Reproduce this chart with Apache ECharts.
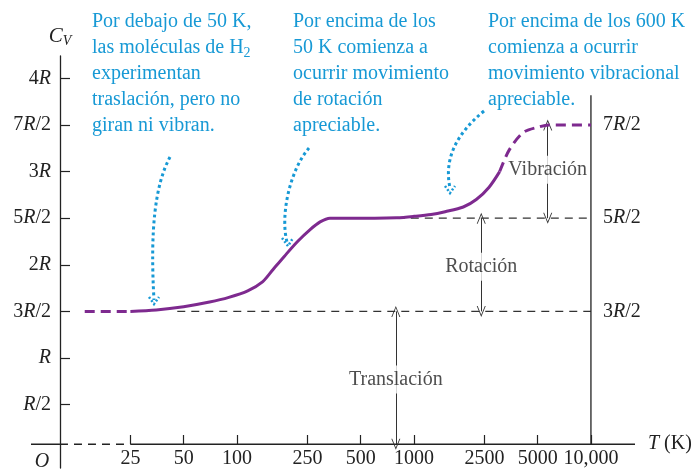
<!DOCTYPE html>
<html>
<head>
<meta charset="utf-8">
<script src="https://cdn.jsdelivr.net/npm/echarts@6/dist/echarts.min.js"></script>
<style>
    html, body { margin: 0; padding: 0; background: #fff; }
    #main { width: 698px; height: 469px; }
</style>
</head>
<body>
<div id="main"></div>
<script>
// curva Cv(T) del H2 (T en K, Cv en unidades de R)
var tempLow = [13.8, 25];
var cvLow = [1.5, 1.5];
var tempMid = [25, 35, 50, 70, 90, 115, 140, 160, 185, 220, 260, 295, 335, 450, 600, 800, 1000, 1250, 1500, 1900, 2250, 2650, 3050];
var cvMid = [1.5, 1.515, 1.55, 1.6, 1.65, 1.72, 1.82, 1.95, 2.09, 2.25, 2.38, 2.46, 2.5, 2.5, 2.5, 2.505, 2.52, 2.54, 2.57, 2.62, 2.7, 2.83, 3.0];
var tempHigh = [3050, 3450, 4150, 5100, 5800, 10000];
var cvHigh = [3.0, 3.23, 3.42, 3.48, 3.5, 3.5];

// ejes
var xTickVals = [25, 50, 100, 250, 500, 1000, 2500, 5000, 10000];
var xTickLabels = ["25", "50", "100", "250", "500", "1000", "2500", "5000", "10,000"];
var yTickVals = [0.5, 1, 1.5, 2, 2.5, 3, 3.5, 4];
var yTickLabels = ["R/2", "R", "3R/2", "2R", "5R/2", "3R", "7R/2", "4R"];
var rightVals = [1.5, 2.5, 3.5];
var rightLabels = ["3R/2", "5R/2", "7R/2"];

// lineas de referencia punteadas
var refStart = [46, 800];
var refLevel = [1.5, 2.5];

// flechas dobles
var arrowTemp = [790, 2400, 5700];
var arrowLow = [0.075, 1.5, 2.5];
var arrowHigh = [1.5, 2.5, 3.5];
var arrowNames = ["Translación", "Rotación", "Vibración"];
var arrowNameCv = [0.77, 1.98, 3.02];

var xMin = 6.86, xMax = 17740, tWall = 10000, axisCv = 0.075, wallTop = 3.82;
var purple = "#7e2a8f";
var blue = "#1799d5";
var ink = "#222";
var serif = "Liberation Serif";

function zip(xs, ys) {
    var out = [];
    for (var i = 0; i < xs.length; i++) {
        out.push([xs[i], ys[i]]);
    }
    return out;
}

function richR(s) {
    return s.replace("R", "{i|R}");
}

function labelFor(vals, labels) {
    return function (v) {
        for (var i = 0; i < vals.length; i++) {
            if (Math.abs(vals[i] - v) < 1e-6 * Math.max(1, vals[i])) return richR(labels[i]);
        }
        return "";
    };
}

var italicRich = { i: { fontStyle: "italic", fontFamily: serif, fontSize: 20, color: ink } };

function plainLine(data, color, width, type, z) {
    return {
        type: "line", data: data, symbol: "none", silent: true, z: z || 2,
        lineStyle: { color: color, width: width, type: type }
    };
}

var series = [];
// eje x dibujado a mano: tramo solido, tramo cortado, tramo solido
series.push(plainLine([[xMin, axisCv], [10, axisCv]], ink, 1.3, "solid"));
series.push(plainLine([[10, axisCv], [25, axisCv]], ink, 1.3, [8, 6]));
series.push(plainLine([[25, axisCv], [xMax, axisCv]], ink, 1.3, "solid"));
// pared vertical a 10,000 K
series.push(plainLine([[tWall, axisCv], [tWall, wallTop]], ink, 1.3, "solid", 6));
for (var r = 0; r < refStart.length; r++) {
    series.push(plainLine([[refStart[r], refLevel[r]], [tWall, refLevel[r]]], "#333", 1.2, [8, 6]));
}

var arrowHead = "path://M0,10 L5,0 L10,10 L9,10 L5,2 L1,10 Z";
var arrowData = [];
for (var a = 0; a < arrowTemp.length; a++) {
    arrowData.push([{ coord: [arrowTemp[a], arrowLow[a]] }, { coord: [arrowTemp[a], arrowHigh[a]] }]);
}
series.push({
    type: "line", data: [], silent: true, z: 3,
    markLine: {
        silent: true, animation: false,
        symbol: [arrowHead, arrowHead], symbolSize: [9, 11],
        label: { show: false },
        lineStyle: { color: "#333", width: 1, type: "solid" },
        data: arrowData
    }
});
var nameData = [];
for (var n = 0; n < arrowNames.length; n++) {
    nameData.push({ name: arrowNames[n], value: [arrowTemp[n], arrowNameCv[n]] });
}
series.push({
    type: "scatter", data: nameData, symbolSize: 1, silent: true, z: 5,
    itemStyle: { color: "rgba(0,0,0,0)" },
    label: {
        show: true, position: "inside", formatter: "{b}",
        fontFamily: serif, fontSize: 20, color: ink,
        backgroundColor: "#fff", padding: [4, 3]
    }
});

// curva de Cv
series.push(plainLine(zip(tempLow, cvLow), purple, 3, [10, 6], 8));
var mid = plainLine(zip(tempMid, cvMid), purple, 3, "solid", 8);
mid.smooth = 0.3;
series.push(mid);
var high = plainLine(zip(tempHigh, cvHigh), purple, 3, [10, 6], 8);
high.smooth = 0.3;
series.push(high);

var noteFont = '20px "Liberation Serif"';
var noteRich = { sub: { fontSize: 14, fontFamily: serif, fill: blue, padding: [10, 0, 0, 0] } };
function note(x, text) {
    return {
        type: "text", x: x, y: 9, silent: true,
        style: { text: text, font: noteFont, fill: blue, lineHeight: 26, verticalAlign: "top", rich: noteRich }
    };
}
function dotted(shape) {
    return {
        type: "bezierCurve", silent: true, shape: shape,
        style: { stroke: blue, lineWidth: 3, lineDash: [3, 3], fill: null }
    };
}
function head(points) {
    return {
        type: "polyline", silent: true, shape: { points: points },
        style: { stroke: blue, lineWidth: 2.5, lineDash: [2, 2], fill: null }
    };
}

var option = {
    animation: false,
    backgroundColor: "#fff",
    grid: { left: 31, right: 63, top: 56, bottom: 0, containLabel: false },
    xAxis: {
        type: "log", logBase: 10, min: xMin, max: xMax, offset: -24,
        axisLine: { show: false },
        axisTick: { inside: true, length: 9, customValues: xTickVals, lineStyle: { color: ink, width: 1.2 } },
        axisLabel: {
            customValues: xTickVals, formatter: labelFor(xTickVals, xTickLabels),
            margin: 5, fontFamily: serif, fontSize: 20, color: ink, rich: italicRich
        },
        splitLine: { show: false },
        name: "{i|T} (K)", nameLocation: "end", nameGap: 13,
        nameTextStyle: { fontFamily: serif, fontSize: 20, color: ink, rich: italicRich }
    },
    yAxis: [{
        type: "value", min: -0.18, max: 4.24, position: "left", offset: -29,
        axisLine: { show: true, lineStyle: { color: ink, width: 1.3 } },
        axisTick: { inside: true, length: 10, customValues: yTickVals, lineStyle: { color: ink, width: 1.2 } },
        axisLabel: {
            customValues: yTickVals, formatter: labelFor(yTickVals, yTickLabels),
            margin: 9, fontFamily: serif, fontSize: 20, color: ink, rich: italicRich
        },
        splitLine: { show: false },
        name: "{c|C}{v|V}", nameLocation: "end", nameGap: 8,
        nameTextStyle: {
            rich: {
                c: { fontStyle: "italic", fontFamily: serif, fontSize: 21, color: ink },
                v: { fontStyle: "italic", fontFamily: serif, fontSize: 14, color: ink, padding: [10, 0, 0, 0] }
            }
        }
    }, {
        type: "value", min: -0.18, max: 4.24, position: "right", offset: -44,
        axisLine: { show: false },
        axisTick: { show: false },
        axisLabel: {
            customValues: rightVals, formatter: labelFor(rightVals, rightLabels),
            margin: 12, fontFamily: serif, fontSize: 20, color: ink, rich: italicRich
        },
        splitLine: { show: false }
    }],
    series: series,
    graphic: [
        note(92, "Por debajo de 50 K,\nlas moléculas de H{sub|2}\nexperimentan\ntraslación, pero no\ngiran ni vibran."),
        note(293, "Por encima de los\n50 K comienza a\nocurrir movimiento\nde rotación\napreciable."),
        note(488, "Por encima de los 600 K\ncomienza a ocurrir\nmovimiento vibracional\napreciable."),
        dotted({ x1: 170, y1: 157, cpx1: 155, cpy1: 185, cpx2: 150, cpy2: 230, x2: 154, y2: 300 }),
        head([[149, 297], [154, 304], [159, 297]]),
        dotted({ x1: 309, y1: 148, cpx1: 290, cpy1: 170, cpx2: 280, cpy2: 215, x2: 287, y2: 242 }),
        head([[282, 238], [288, 246], [293, 238]]),
        dotted({ x1: 484, y1: 111, cpx1: 455, cpy1: 135, cpx2: 444, cpy2: 160, x2: 450, y2: 188 }),
        head([[445, 186], [450, 193], [455, 186]]),
        {
            type: "text", x: 42, y: 462, silent: true,
            style: { text: "O", font: 'italic 20px "Liberation Serif"', fill: ink, align: "center", verticalAlign: "middle" }
        }
    ]
};

var myChart = echarts.init(document.getElementById("main"), null, { renderer: "canvas" });
myChart.setOption(option);
</script>
</body>
</html>
